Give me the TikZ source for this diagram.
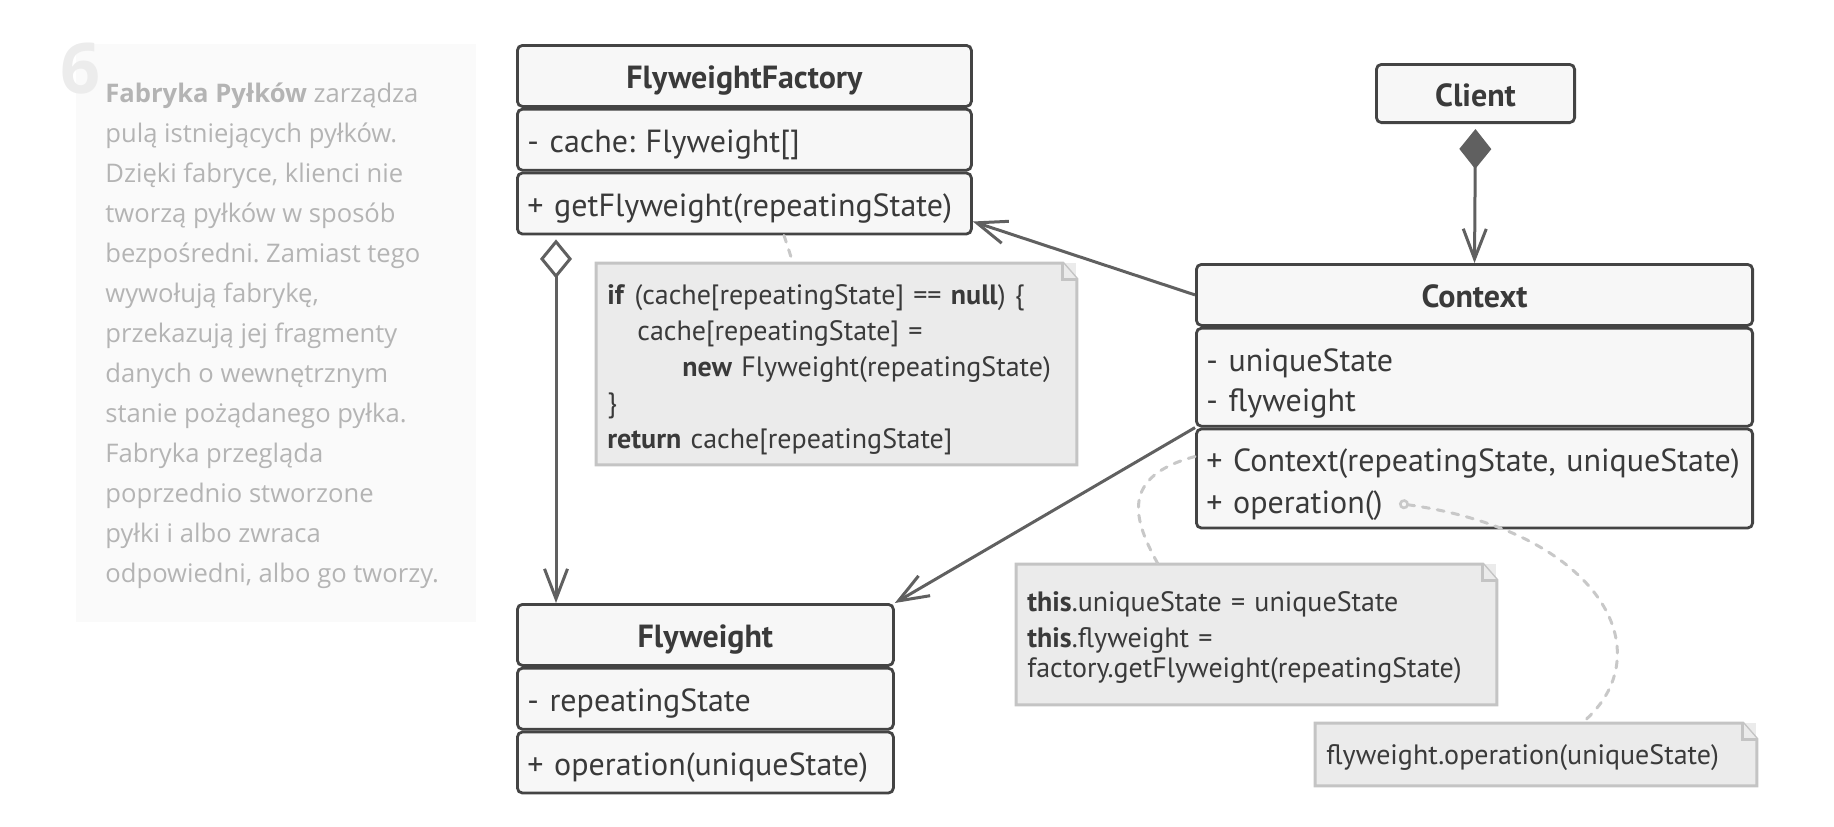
\documentclass[tikz,border=0pt]{standalone}
\usepackage{fontspec}
\setmainfont{PT Sans}
\newfontfamily\panelsans{Open Sans}
\usepackage{tikz}
\usetikzlibrary{positioning,arrows.meta}
\definecolor{umlline}{RGB}{68, 68, 68}
\definecolor{umlfill}{RGB}{247, 247, 247}
\definecolor{umltext}{RGB}{58, 58, 58}
\definecolor{linkgray}{RGB}{96, 96, 96}
\definecolor{notefill}{RGB}{235, 235, 235}
\definecolor{notegray}{RGB}{196, 196, 196}
\definecolor{dashgray}{RGB}{200, 200, 200}
\definecolor{panelbg}{RGB}{250, 250, 250}
\definecolor{paneltext}{RGB}{180, 180, 180}
\definecolor{stepgray}{RGB}{236, 236, 236}
\newcommand{\classfont}{\fontsize{16}{20}\selectfont}
\newcommand{\notefont}{\fontsize{14}{18}\selectfont}
\frenchspacing

\begin{document}
\begin{tikzpicture}[
    x=0.5pt, y=-0.5pt,
    every node/.style={text=umltext},
    classhead/.style={rectangle, draw=umlline, fill=umlfill, line width=1.4pt, rounded corners=2.5pt, font=\bfseries\classfont, text width=#1, align=center, inner xsep=5pt, inner ysep=0pt, minimum height=30.5pt, text height=14pt, text depth=1.5pt},
    classpart/.style={rectangle, draw=umlline, fill=umlfill, line width=1.4pt, rounded corners=2.5pt, font=\classfont, text width=#1, align=left, inner xsep=5pt, inner ysep=0pt, minimum height=30.5pt, text height=14pt, text depth=1.5pt},
    multipart/.style={classpart=#1, text height=, text depth=},
    notebox/.style={rectangle, fill=notefill, text width=#1, align=left, inner xsep=5.5pt, inner ysep=0pt, font=\notefont, anchor=north west},
    noteedge/.style={draw=notegray, line width=1.5pt, line join=miter},
    assoc/.style={draw=linkgray, line width=1.5pt, -{Straight Barb[length=15pt, width=11.5pt]}},
    aggr/.style={assoc, {Diamond[length=19.5pt, width=16pt, fill=white]}-{Straight Barb[length=15pt, width=11.5pt]}, shorten <=2pt},
    compo/.style={assoc, {Diamond[length=20pt, width=16pt]}-{Straight Barb[length=15pt, width=11.5pt]}, shorten <=2.5pt},
    noteconn/.style={draw=dashgray, line width=1.5pt, dash pattern=on 3.5pt off 4pt, line cap=round},
    panelbox/.style={rectangle, fill=panelbg, anchor=north west, inner sep=0pt, minimum width=200pt, minimum height=289pt},
    paneltxt/.style={text=paneltext, anchor=north west, inner sep=0pt, align=left, font=\panelsans\fontsize{12.8}{20}\selectfont}
]
    \useasboundingbox (0,0) rectangle (1834,826);

    % Side panel with description
    \node[panelbox] (panel) at (76,44) {};
    \node[anchor=north west, inner sep=0pt, text=stepgray, font=\panelsans\bfseries\fontsize{35}{35}\selectfont] (stepno) at (60,43) {6};
    \node[paneltxt] (desc) at (105,82) {\textbf{Fabryka Pyłków} zarządza\\
        pulą istniejących pyłków.\\
        Dzięki fabryce, klienci nie\\
        tworzą pyłków w sposób\\
        bezpośredni. Zamiast tego\\
        wywołują fabrykę,\\
        przekazują jej fragmenty\\
        danych o wewnętrznym\\
        stanie pożądanego pyłka.\\
        Fabryka przegląda\\
        poprzednio stworzone\\
        pyłki i albo zwraca\\
        odpowiedni, albo go tworzy.};

    % FlyweightFactory
    \node[classhead=217pt, anchor=north west] (ffhead) at (516,44) {FlyweightFactory};
    \node[classpart=217pt, below=0pt of ffhead] (ffattr) {- cache: Flyweight[]};
    \node[classpart=217pt, below=0pt of ffattr] (ffops) {+ getFlyweight(repeatingState)};

    % Flyweight
    \node[classhead=178pt, anchor=north west] (fwhead) at (516,603) {Flyweight};
    \node[classpart=178pt, below=0pt of fwhead] (fwattr) {- repeatingState};
    \node[classpart=178pt, below=0pt of fwattr] (fwops) {+ operation(uniqueState)};

    % Client and Context
    \node[classhead=89.1pt, anchor=north west, minimum height=29.1pt] (client) at (1375,63) {Client};
    \node[classhead=268.1pt, anchor=north west] (ctxhead) at (1195,263) {Context};
    \node[multipart=268.1pt, below=0pt of ctxhead, minimum height=49pt] (ctxattr) {\rule{0pt}{18pt}- uniqueState\\- flyweight};
    \node[multipart=268.1pt, below=0pt of ctxattr, minimum height=49.5pt, font=\fontsize{16}{21}\selectfont] (ctxops) {\rule{0pt}{18pt}+ Context(repeatingState, uniqueState)\\+ operation()};

    % Notes
    \node[notebox=229pt, minimum height=100.5pt] (note1) at (596,263) {\rule{0pt}{15.5pt}\textbf{if} (cache[repeatingState] == \textbf{null}) \{\\
        \hspace*{15pt}cache[repeatingState] =\\
        \hspace*{37.5pt}\textbf{new} Flyweight(repeatingState)\\
        \}\\
        \textbf{return} cache[repeatingState]};
    \node[notebox=229pt, minimum height=70pt, font=\fontsize{14}{15}\selectfont] (note2) at (1016,564) {\rule{0pt}{13.5pt}\textbf{this}.uniqueState = uniqueState\\[3pt]
        \textbf{this}.flyweight =\\
        factory.getFlyweight(repeatingState)};
    \node[notebox=209.5pt, minimum height=31pt] (note3) at (1315,723) {\rule{0pt}{13.5pt}flyweight.operation(uniqueState)};

    \foreach \n in {note1,note2,note3} {
        \draw[noteedge] (\n.north west) -- ([xshift=-7pt]\n.north east) -- ([yshift=-8pt]\n.north east) -- (\n.south east) -- (\n.south west) -- cycle;
        \draw[noteedge, fill=notefill] ([xshift=-7pt]\n.north east) -- ([xshift=-7pt, yshift=-8pt]\n.north east) -- ([yshift=-8pt]\n.north east);
    }

    % Relations
    \draw[compo] (client.south) -- (ctxhead.north);
    \draw[assoc] (ctxhead.west) -- ([yshift=-9pt]ffops.east);
    \draw[assoc] (ctxattr.south west) -- (fwhead.north east);
    \draw[aggr] ([xshift=20pt]ffops.south west) -- ([xshift=20pt]fwhead.north west);

    % Note links
    \coordinate (opdot) at ([xshift=102pt, yshift=-12.5pt]ctxops.west);
    \draw[noteconn] ([xshift=134pt]ffops.south west) -- ([xshift=98.5pt]note1.north west);
    \draw[noteconn] ([yshift=11pt]ctxops.west) .. controls +(-75,20) and +(-25,-45) .. ([xshift=71pt]note2.north west);
    \draw[noteconn, {Circle[open, length=5pt, width=5pt, line width=1.3pt]}-] (opdot) .. controls +(201,28) and +(83,-70) .. ([xshift=133.5pt]note3.north west);
\end{tikzpicture}
\end{document}
